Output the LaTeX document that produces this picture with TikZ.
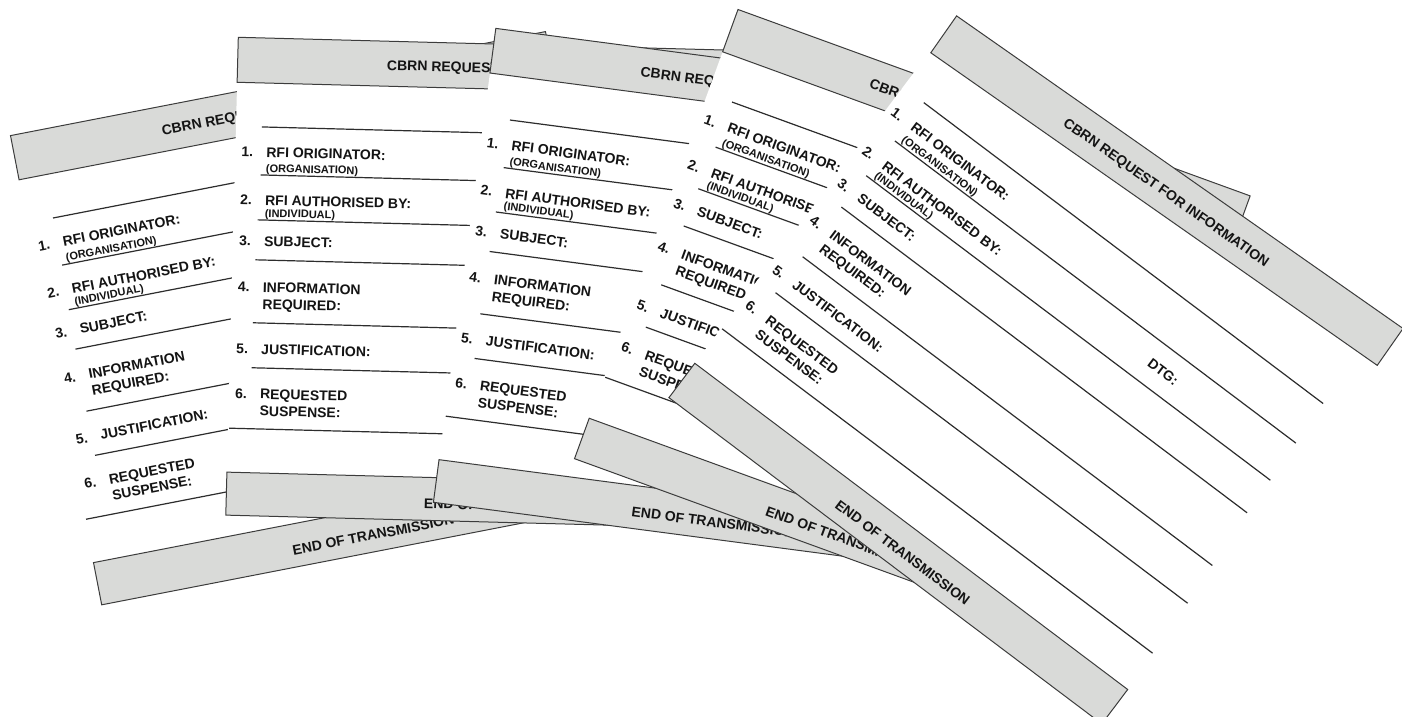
\documentclass[tikz,border=0pt]{standalone}
\usepackage{fontspec}
\setmainfont{Liberation Sans}[BoldFont={Liberation Sans Bold}]
\newfontfamily\formbold{Liberation Sans Bold}
\definecolor{bandgray}{RGB}{217,218,216}
\definecolor{edgegray}{RGB}{60,60,60}
\definecolor{inkc}{RGB}{20,20,20}
\definecolor{rulec}{RGB}{45,45,45}
\tikzset{
  bandbox/.style={fill=bandgray, draw=edgegray, line width=1pt},
  formrule/.style={draw=rulec, line width=1.2pt},
  lbl/.style={anchor=base west, inner sep=0pt, text=inkc, font=\formbold\fontsize{14}{16}\selectfont},
  sublbl/.style={anchor=base west, inner sep=0pt, text=inkc, font=\formbold\fontsize{11}{13}\selectfont},
  ttl/.style={anchor=base, inner sep=0pt, text=inkc, font=\formbold\fontsize{14}{16}\selectfont},
}
% #1 = name prefix, #2 = extra rotation of the header band
\newcommand{\drawform}[2]{%
  \fill[white] (0,0) rectangle (545,478);
  \begin{scope}[rotate=#2]
    \draw[bandbox] (0,0) rectangle (545,45);
    \node[ttl] (#1-title) at (273,29) {CBRN REQUEST FOR INFORMATION};
  \end{scope}
  \draw[formrule] (26,89) -- (526,89);
  \draw[formrule] (26,137) -- (528,137);
  \draw[formrule] (24,182) -- (530,182);
  \draw[formrule] (23,222) -- (531,222);
  \draw[formrule] (22,285) -- (535,285);
  \draw[formrule] (22,330) -- (538,330);
  \draw[formrule] (1,391) -- (540,391);
  \node[lbl] (#1-n1) at (6,119) {1.};
  \node[lbl] (#1-t1) at (31,119) {RFI ORIGINATOR:};
  \node[sublbl] (#1-s1) at (31,134) {(ORGANISATION)};
  \node[lbl] (#1-n2) at (6,167) {2.};
  \node[lbl] (#1-t2) at (31,167) {RFI AUTHORISED BY:};
  \node[sublbl] (#1-s2) at (31,179) {(INDIVIDUAL)};
  \node[lbl] (#1-dtg) at (362,165) {DTG:};
  \node[lbl] (#1-n3) at (6,208) {3.};
  \node[lbl] (#1-t3) at (31,208) {SUBJECT:};
  \node[lbl] (#1-n4) at (6,254) {4.};
  \node[lbl] (#1-t4) at (31,254) {INFORMATION};
  \node[lbl] (#1-t4b) at (31,271) {REQUIRED:};
  \node[lbl] (#1-n5) at (6,316) {5.};
  \node[lbl] (#1-t5) at (31,316) {JUSTIFICATION:};
  \node[lbl] (#1-n6) at (6,361) {6.};
  \node[lbl] (#1-t6) at (31,361) {REQUESTED};
  \node[lbl] (#1-t6b) at (31,378) {SUSPENSE:};
  \draw[bandbox] (0,435) rectangle (542,478);
  \node[ttl] (#1-end) at (280,466) {END OF TRANSMISSION};
}
\begin{document}
\begin{tikzpicture}[x=1pt,y=-1pt,transform shape]
\useasboundingbox (0,0) rectangle (1402,717);
\clip (0,0) rectangle (1402,717);
\begin{scope}[shift={(10.5,135.6)},rotate=11]
  \drawform{pa}{0}
\end{scope}
\begin{scope}[shift={(238.3,37.3)},rotate=-1.5]
  \drawform{pb}{0}
\end{scope}
\begin{scope}[shift={(495.8,28.4)},rotate=-7.5]
  \drawform{pc}{0}
\end{scope}
\begin{scope}[shift={(738,9.5)},rotate=-20]
  \drawform{pd}{0}
\end{scope}
\begin{scope}[shift={(956.6,15.9)},rotate=-37]
  \drawform{pe}{2}
\end{scope}
\end{tikzpicture}
\end{document}
